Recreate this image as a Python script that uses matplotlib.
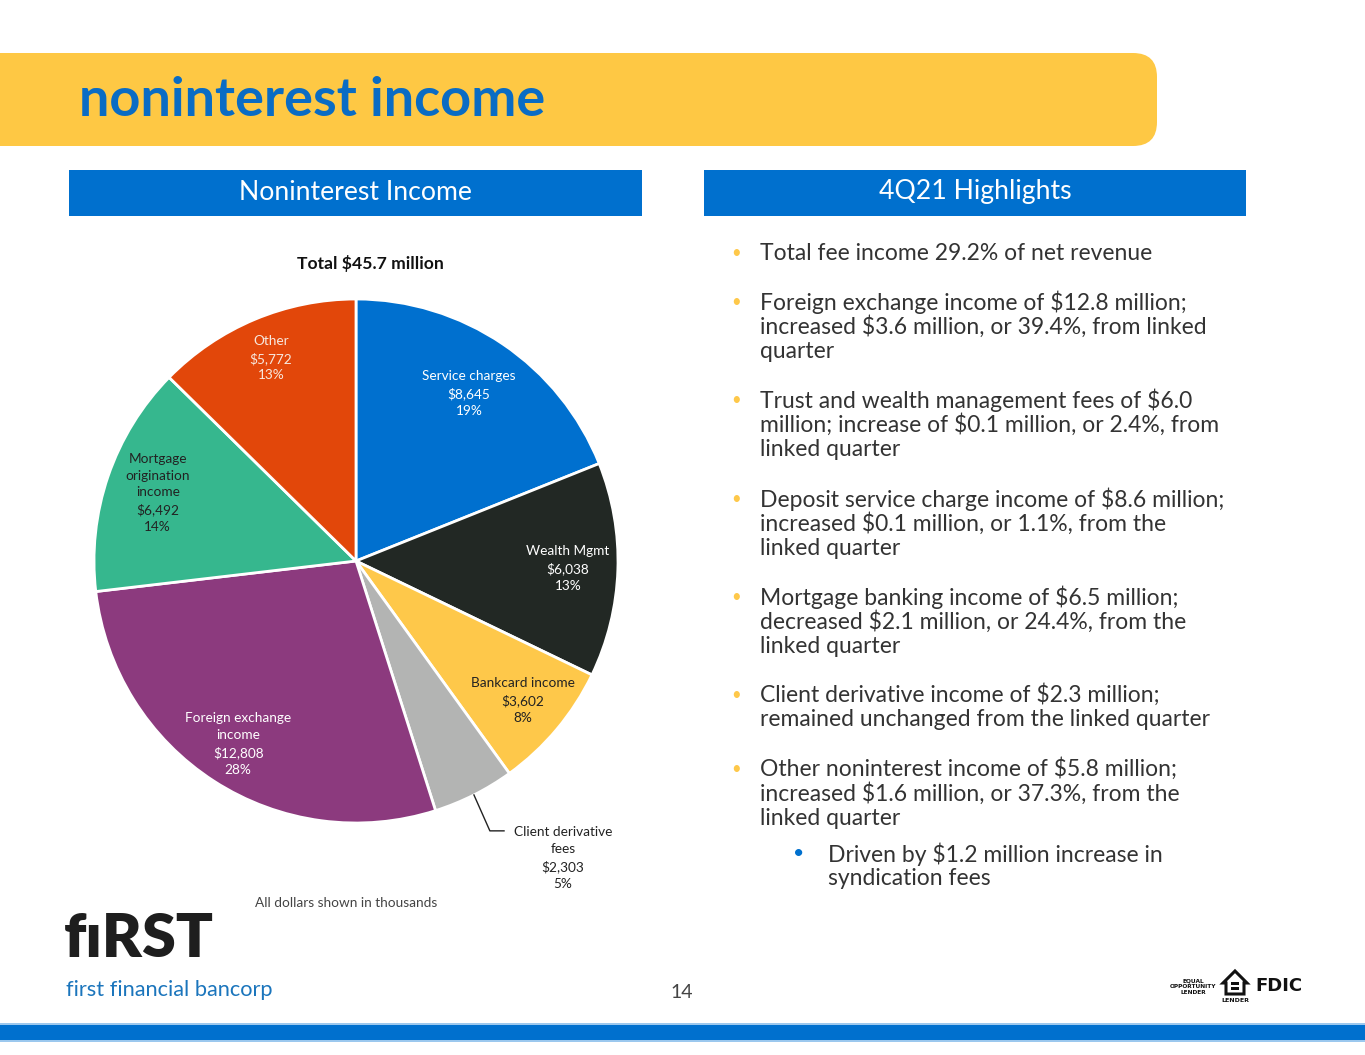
import matplotlib
matplotlib.use("Agg")
import matplotlib.pyplot as plt
from matplotlib.patches import FancyBboxPatch, Rectangle, Polygon
import numpy as np

# pie data (dollars in thousands), clockwise from 12 o'clock
categories = ["Service charges", "Wealth Mgmt", "Bankcard income",
              "Client derivative\nfees", "Foreign exchange\nincome",
              "Mortgage\norigination\nincome", "Other"]
values = [8645, 6038, 3602, 2303, 12808, 6492, 5772]
colors = ["#0070CF", "#222824", "#FEC84A", "#B3B4B3", "#8C3A7E", "#36B78E", "#E2470A"]
label_colors = ["white", "white", "#222222", "#222222", "white", "#222222", "#F7E8DE"]
label_dist = [0.77, 0.81, 0.83, None, 0.83, 0.80, 0.84]

total_label = "Total $45.7 million"

bullets = [
    ["Total fee income 29.2% of net revenue"],
    ["Foreign exchange income of $12.8 million;",
     "increased $3.6 million, or 39.4%, from linked",
     "quarter"],
    ["Trust and wealth management fees of $6.0",
     "million; increase of $0.1 million, or 2.4%, from",
     "linked quarter"],
    ["Deposit service charge income of $8.6 million;",
     "increased $0.1 million, or 1.1%, from the",
     "linked quarter"],
    ["Mortgage banking income of $6.5 million;",
     "decreased $2.1 million, or 24.4%, from the",
     "linked quarter"],
    ["Client derivative income of $2.3 million;",
     "remained unchanged from the linked quarter"],
    ["Other noninterest income of $5.8 million;",
     "increased $1.6 million, or 37.3%, from the",
     "linked quarter"],
]
sub_bullet = ["Driven by $1.2 million increase in", "syndication fees"]
bullet_y = [253, 302, 400, 499, 597, 695, 769]

BLUE = "#0070CE"
YELLOW = "#FEC844"
TEXT = "#333333"
FONT = "Lato"

fig = plt.figure(figsize=(13.65, 10.55), dpi=100)
bg = fig.add_axes([0, 0, 1, 1])
bg.set_xlim(0, 1365)
bg.set_ylim(1055, 0)
bg.axis("off")

# title banner
bg.add_patch(FancyBboxPatch((-60, 53), 1217, 93, boxstyle="round,pad=0,rounding_size=24",
                            fc=YELLOW, ec="none"))
bg.text(79, 100, "noninterest income", color="#0A6CC4", fontsize=39, fontweight="bold",
        family=FONT, va="center", ha="left")

# section headers
for x0, x1, label in [(69, 642, "Noninterest Income"), (704, 1246, "4Q21 Highlights")]:
    bg.add_patch(Rectangle((x0, 170), x1 - x0, 46, fc=BLUE, ec="none"))
    bg.text((x0 + x1) / 2, 192, label, color="white", fontsize=19.2, family=FONT,
            ha="center", va="center")

# pie
cx, cy, r = 356, 561, 262
ax = fig.add_axes([(cx - r) / 1365, (1055 - cy - r) / 1055, 2 * r / 1365, 2 * r / 1055])
wedges, _ = ax.pie(values, colors=colors, startangle=90, counterclock=False,
                   wedgeprops=dict(edgecolor="white", linewidth=2))
ax.set_xlim(-1, 1)
ax.set_ylim(-1, 1)
ax.axis("off")

total = sum(values)
for w, cat, v, tc, d in zip(wedges, categories, values, label_colors, label_dist):
    txt = "%s\n$%s\n%d%%" % (cat, format(v, ","), round(v / total * 100))
    ang = np.deg2rad((w.theta1 + w.theta2) / 2)
    if d is None:
        # small slice: label outside with leader line
        ax.plot([np.cos(ang), 0.511, 0.565], [np.sin(ang), -1.03, -1.03],
                color="#222222", lw=1, clip_on=False)
        ax.text(0.79, -1.134, txt, color=tc, fontsize=9.8, family=FONT,
                ha="center", va="center", linespacing=1.48)
    else:
        ax.text(d * np.cos(ang), d * np.sin(ang), txt, color=tc, fontsize=9.8, family=FONT,
                ha="center", va="center", linespacing=1.48)

bg.text(370, 264, total_label, color="#111111", fontsize=12.6, fontweight="bold",
        family=FONT, ha="center", va="center")
bg.text(346, 903, "All dollars shown in thousands", color="#444444", fontsize=9.8,
        family=FONT, ha="center", va="center")

# highlights
for y0, lines in zip(bullet_y, bullets):
    bg.text(731, y0, "\u2022", color="#FEC84A", fontsize=12, family=FONT,
            ha="left", va="center")
    for i, line in enumerate(lines):
        bg.text(760, y0 + i * 24.6, line, color=TEXT, fontsize=16.5, family=FONT,
                ha="left", va="center")
bg.text(793, 854, "\u2022", color=BLUE, fontsize=14, family=FONT, ha="left", va="center")
for i, line in enumerate(sub_bullet):
    bg.text(828, 854 + i * 24.6, line, color=TEXT, fontsize=16.5, family=FONT,
            ha="left", va="center")

# footer
bg.text(64, 939, "f\u0131RST", color="#1E1E1E", fontsize=44, fontweight="heavy",
        family=FONT, ha="left", va="center")
bg.text(66, 990, "first financial bancorp", color="#1B75BC", fontsize=15.7, family=FONT,
        ha="left", va="center")
bg.text(682, 992, "14", color="#444444", fontsize=14, family=FONT, ha="center", va="center")
bg.text(1193, 987, "EQUAL\nOPPORTUNITY\nLENDER", color="#111111", fontsize=4.2,
        fontweight="bold", ha="center", va="center", linespacing=1.15, family="DejaVu Sans")
bg.add_patch(Polygon([[1223, 983], [1235, 971], [1247, 983], [1244, 983], [1244, 994],
                      [1226, 994], [1226, 983]], closed=True, fc="white", ec="#111111", lw=2.2))
bg.add_patch(Rectangle((1231, 982), 8, 2.5, fc="#111111", ec="none"))
bg.add_patch(Rectangle((1231, 987), 8, 2.5, fc="#111111", ec="none"))
bg.text(1235, 1000, "LENDER", color="#111111", fontsize=4.5, fontweight="bold",
        ha="center", va="center", family="DejaVu Sans")
bg.text(1278.5, 986, "FDIC", color="#111111", fontsize=13, fontweight="heavy",
        family="DejaVu Sans", ha="center", va="center")

bg.add_patch(Rectangle((0, 1025), 1365, 15, fc=BLUE, ec="none"))
bg.add_patch(Rectangle((0, 1023), 1365, 2, fc="#9CC8EE", ec="none"))
bg.add_patch(Rectangle((0, 1040), 1365, 2, fc="#9CC8EE", ec="none"))

fig.savefig("out.png", dpi=100, facecolor="white")
